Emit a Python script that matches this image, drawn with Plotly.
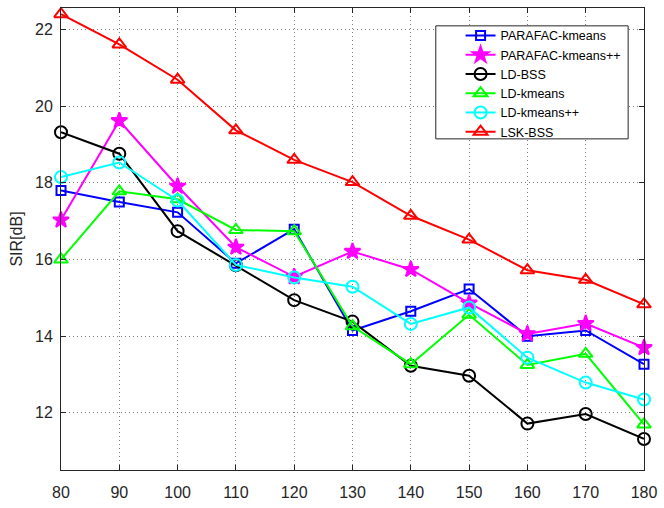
import plotly.graph_objects as go

x_vals = [80, 90, 100, 110, 120, 130, 140, 150, 160, 170, 180]

parafac_kmeans = [17.80, 17.50, 17.23, 15.90, 16.79, 14.15, 14.65, 15.23, 14.00, 14.15, 13.27]
parafac_kmeanspp = [17.03, 19.62, 17.91, 16.32, 15.55, 16.21, 15.74, 14.86, 14.06, 14.33, 13.70]
ld_bss = [19.32, 18.76, 16.74, 15.85, 14.94, 14.38, 13.23, 12.97, 11.72, 11.97, 11.32]
ld_kmeans = [16.00, 17.78, 17.57, 16.77, 16.74, 14.26, 13.27, 14.56, 13.25, 13.54, 11.70]
ld_kmeanspp = [18.15, 18.53, 17.54, 15.86, 15.53, 15.29, 14.32, 14.75, 13.44, 12.79, 12.35]
lsk_bss = [22.40, 21.61, 20.69, 19.37, 18.60, 18.02, 17.14, 16.52, 15.72, 15.47, 14.83]

series_names = ["PARAFAC-kmeans", "PARAFAC-kmeans++", "LD-BSS", "LD-kmeans", "LD-kmeans++", "LSK-BSS"]
series_values = [parafac_kmeans, parafac_kmeanspp, ld_bss, ld_kmeans, ld_kmeanspp, lsk_bss]
colors = ["#0000FF", "#FF00FF", "#000000", "#00FF00", "#00FFFF", "#FF0000"]
symbols = ["square-open", "star", "circle-open", "triangle-up-open", "circle-open", "triangle-up-open"]
sizes = [9, 12, 12, 12, 12, 12]

y_ticks = [12, 14, 16, 18, 20, 22]
x_ticks = x_vals

FONT = "Liberation Sans, Arial, sans-serif"

fig = go.Figure()
for name, vals, c, s, sz in zip(series_names, series_values, colors, symbols, sizes):
    fig.add_trace(go.Scatter(
        x=x_vals, y=vals, name=name, mode="lines+markers", cliponaxis=False,
        line=dict(color=c, width=2),
        marker=dict(symbol=s, size=sz, color=c, line=dict(color=c, width=2)),
    ))

L, R, T, B = 61, 15, 7, 35
W, H = 664, 508
pw, ph = W - L - R, H - T - B

def px_x(p):
    return (p - L) / pw

def px_y(p):
    return (H - B - p) / ph

fig.add_shape(type="rect", xref="paper", yref="paper",
              x0=px_x(439), x1=px_x(633), y0=px_y(139), y1=px_y(25),
              fillcolor="white", line=dict(color="#262626", width=1), layer="above")

axis_common = dict(
    showline=True, linecolor="#262626", linewidth=1, mirror="ticks",
    ticks="inside", ticklen=5, tickcolor="#262626",
    showgrid=True, gridcolor="rgba(38,38,38,0.6)", griddash="1px,3px", gridwidth=1,
    zeroline=False, tickfont=dict(family=FONT, size=16, color="#262626"),
)

fig.update_xaxes(range=[80, 180], tickvals=x_ticks, ticklabelstandoff=8, **axis_common)
fig.update_yaxes(range=[10.51, 22.56], tickvals=y_ticks, ticklabelstandoff=4,
                 title=dict(text="SIR[dB]", font=dict(family=FONT, size=16, color="#262626"), standoff=8),
                 **axis_common)

fig.update_layout(
    width=W, height=H,
    margin=dict(l=L, r=R, t=T, b=B),
    paper_bgcolor="white", plot_bgcolor="white",
    showlegend=True,
    legend=dict(x=px_x(464), y=px_y(20), xanchor="left", yanchor="top",
                bgcolor="rgba(0,0,0,0)", borderwidth=0,
                font=dict(family=FONT, size=12.5, color="#000000"),
                tracegroupgap=0),
)

fig.write_html("out.html", config={"displayModeBar": False},
               post_script="document.body.style.margin='0';document.body.style.padding='0';document.body.style.overflow='hidden';")
